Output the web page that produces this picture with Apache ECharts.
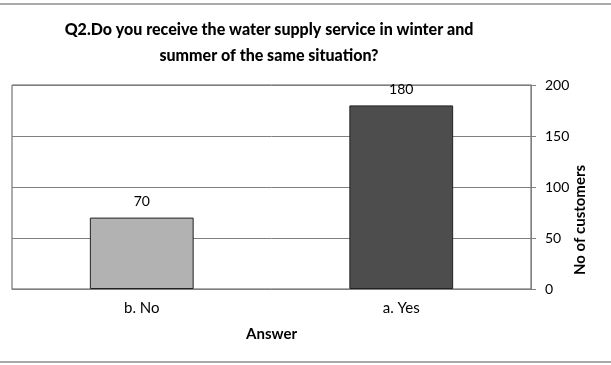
<!DOCTYPE html>
<html><head><meta charset="utf-8">
<script src="https://cdn.jsdelivr.net/npm/echarts@6/dist/echarts.min.js"></script>
<style>html,body{margin:0;padding:0;background:#fff}#c{width:611px;height:365px}</style>
</head><body><div id="c"></div>
<script>
const categories = ['b. No', 'a. Yes'];
const values = [70, 180];
const barColors = ['#b2b2b2', '#4d4d4d'];
const yTicks = {min: 0, max: 200, interval: 50};
const titleText = 'Q2.Do you receive the water supply service in winter and\nsummer of the same situation?';
const xName = 'Answer';
const yName = 'No of customers';

const FONT = 'Lato';
const chart = echarts.init(document.getElementById('c'), null, {renderer: 'canvas'});
chart.setOption({
  animation: false,
  backgroundColor: '#fff',
  title: {
    text: titleText, left: 264, top: 12, textAlign: 'center',
    textStyle: {fontFamily: FONT, fontWeight: 900, fontSize: 16, lineHeight: 26, color: '#000'}
  },
  graphic: [
    {type: 'line', shape: {x1: 0, y1: 4, x2: 611, y2: 4}, style: {stroke: '#8c8c8c', lineWidth: 1.5}},
    {type: 'line', shape: {x1: 0, y1: 362, x2: 611, y2: 362}, style: {stroke: '#8c8c8c', lineWidth: 1.5}}
  ],
  grid: {left: 12, right: 80, top: 85, bottom: 76, show: true, borderColor: '#595959', borderWidth: 1},
  xAxis: {
    type: 'category', data: categories,
    axisLine: {lineStyle: {color: '#808080'}}, axisTick: {show: false},
    axisLabel: {fontFamily: FONT, fontSize: 15, color: '#000', margin: 12},
    name: xName, nameLocation: 'middle', nameGap: 38,
    nameTextStyle: {fontFamily: FONT, fontWeight: 'bold', fontSize: 15, color: '#000'}
  },
  yAxis: {
    type: 'value', position: 'right', min: yTicks.min, max: yTicks.max, interval: yTicks.interval,
    axisLine: {show: true, lineStyle: {color: '#808080'}},
    axisTick: {show: true, length: 5, lineStyle: {color: '#808080'}},
    axisLabel: {fontFamily: FONT, fontSize: 14, color: '#000', margin: 14},
    splitLine: {lineStyle: {color: '#808080'}},
    name: yName, nameLocation: 'middle', nameGap: 42, nameRotate: 90, nameMoveOverlap: false,
    nameTextStyle: {fontFamily: FONT, fontWeight: 'bold', fontSize: 15, color: '#000', padding: [0, 66, 0, 0]}
  },
  series: [{
    type: 'bar', barWidth: '40%',
    data: values.map((v, i) => ({value: v, itemStyle: {color: barColors[i]}})),
    itemStyle: {borderColor: '#222', borderWidth: 1},
    label: {show: true, position: 'top', distance: 9, fontFamily: FONT, fontSize: 14, color: '#000'}
  }]
});
</script></body></html>
